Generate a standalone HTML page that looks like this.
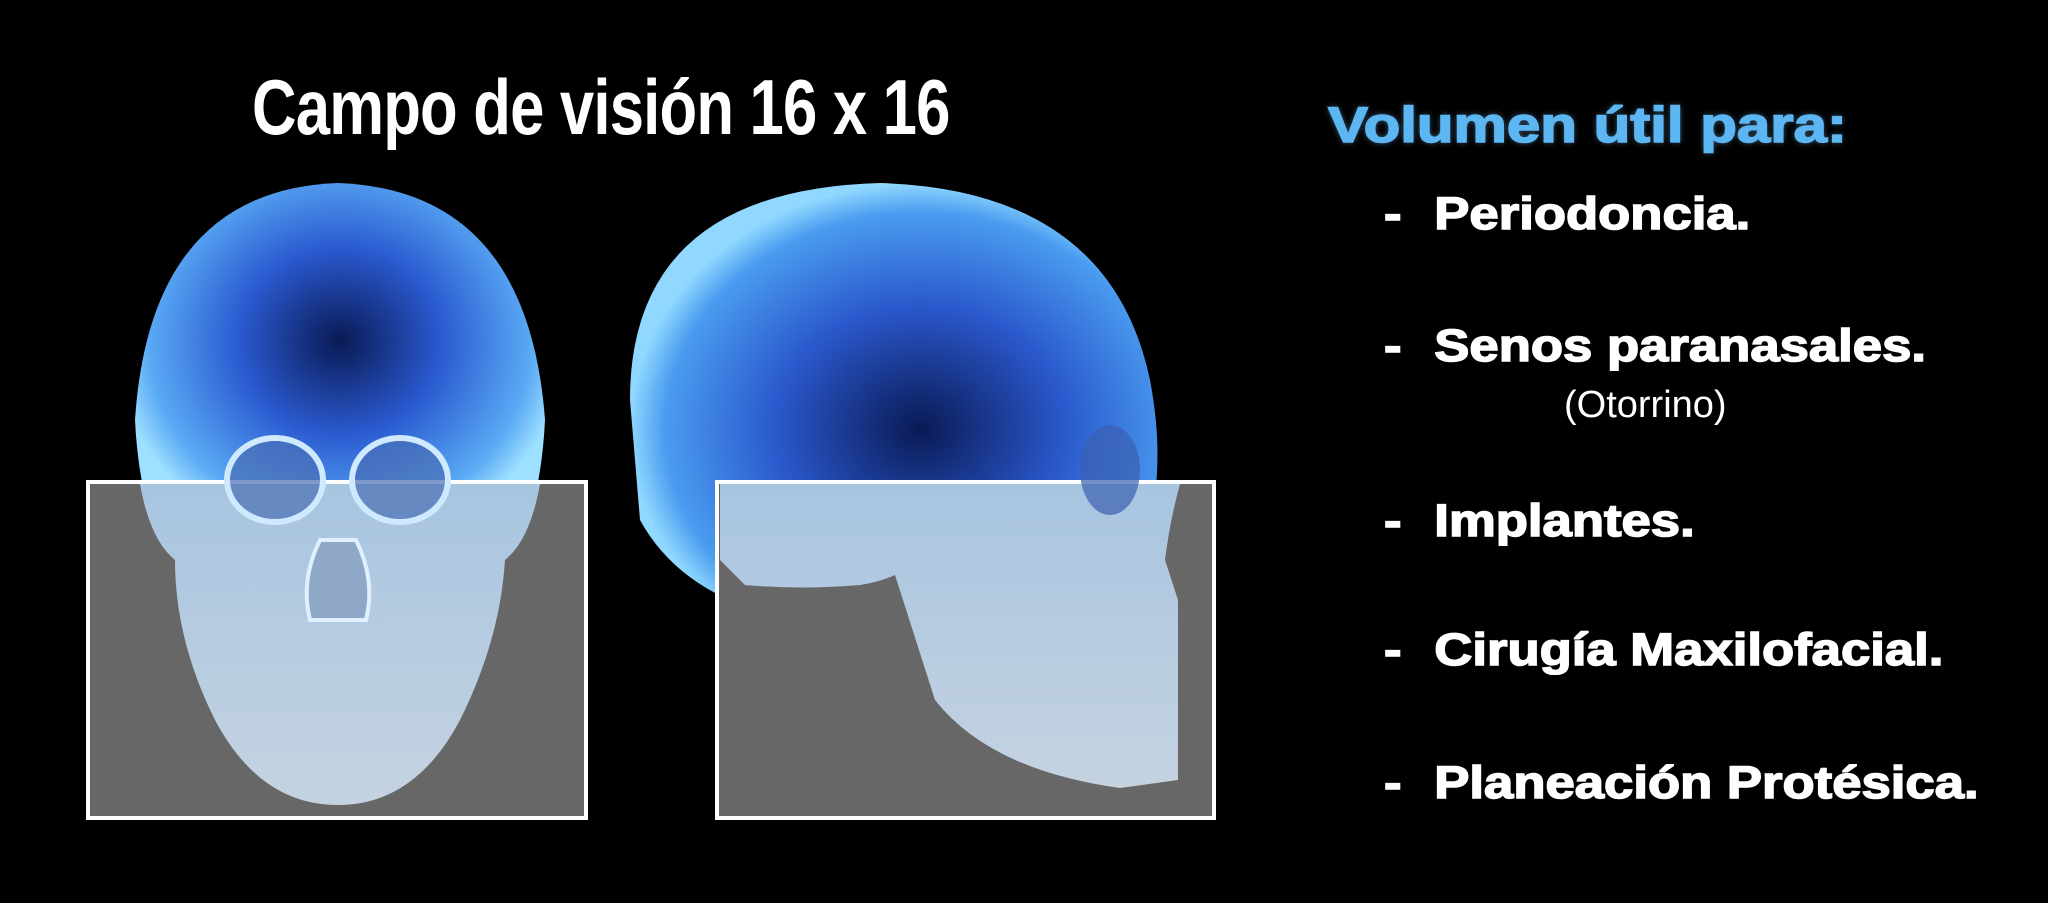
<!DOCTYPE html>
<html><head><meta charset="utf-8">
<style>
html,body{margin:0;padding:0;background:#000;}
#slide{position:relative;width:2048px;height:903px;background:#000;overflow:hidden;font-family:"Liberation Sans",sans-serif;}
.t{position:absolute;color:#fff;white-space:nowrap;transform-origin:left top;}
#title{left:252px;top:62px;font-size:78px;font-weight:bold;transform:scaleX(0.79);letter-spacing:-1px;}
#sub{left:1328px;top:96px;font-size:50px;font-weight:bold;color:#5cb6f2;-webkit-text-stroke:1.5px #5cb6f2;text-shadow:0 0 6px rgba(120,180,230,0.6);transform:scaleX(1.2);}
.item{font-size:45px;font-weight:bold;left:1384px;transform:scaleX(1.17);-webkit-text-stroke:1.5px #fff;}
.item span{display:inline-block;width:43px;}
#oto{left:1564px;top:384px;font-size:38px;}
</style></head><body>
<div id="slide">
<svg width="2048" height="903" style="position:absolute;left:0;top:0">
<defs>
<radialGradient id="g1" cx="50%" cy="42%" r="55%">
<stop offset="0" stop-color="#0a1a55"/><stop offset="0.45" stop-color="#2a5ad0"/><stop offset="0.85" stop-color="#5aaaf5"/><stop offset="1" stop-color="#9ee0ff"/>
</radialGradient>
<radialGradient id="g2" cx="55%" cy="55%" r="55%">
<stop offset="0" stop-color="#0a1a55"/><stop offset="0.5" stop-color="#2a58cc"/><stop offset="0.88" stop-color="#4a9cf0"/><stop offset="1" stop-color="#90d8ff"/>
</radialGradient>
<linearGradient id="jaw" x1="0" y1="0" x2="0" y2="1">
<stop offset="0" stop-color="#b8dcff"/><stop offset="1" stop-color="#dceeff"/>
</linearGradient>
</defs>
<g>
<path d="M338 183 Q150 190 135 420 Q140 520 175 560 L505 560 Q540 520 545 420 Q528 190 338 183 Z" fill="url(#g1)"/>
</g>
<g>
<path d="M630 400 Q630 190 880 183 Q1110 190 1150 380 Q1165 460 1150 520 L1100 540 Q1000 620 900 630 Q700 630 640 520 Z" fill="url(#g2)"/>
</g>
<rect x="88" y="482" width="498" height="336" fill="#676767" stroke="#fff" stroke-width="4"/>
<rect x="717" y="482" width="497" height="336" fill="#676767" stroke="#fff" stroke-width="4"/>
<g opacity="0.8">
<path d="M140 484 Q150 540 175 560 Q175 640 215 720 Q260 805 338 805 Q415 805 460 720 Q500 640 505 560 Q530 540 540 484 Z" fill="url(#jaw)"/>
<path d="M720 484 L1180 484 Q1170 520 1165 560 L1178 600 L1178 780 L1120 788 Q990 770 935 700 L895 575 Q880 582 860 585 Q800 590 745 585 L720 560 Z" fill="url(#jaw)"/>
</g>
<ellipse cx="275" cy="480" rx="48" ry="42" fill="#4a6fb5" fill-opacity="0.7" stroke="#cfeaff" stroke-width="6"/>
<ellipse cx="400" cy="480" rx="48" ry="42" fill="#4a6fb5" fill-opacity="0.7" stroke="#cfeaff" stroke-width="6"/>
<path d="M320 540 Q300 580 310 620 L366 620 Q376 580 356 540 Z" fill="#8fa8c8" stroke="#e0f0ff" stroke-width="4"/>
<ellipse cx="1110" cy="470" rx="30" ry="45" fill="#3a5fb0" fill-opacity="0.7"/>
</svg>
<div class="t" id="title">Campo de visión 16 x 16</div>
<div class="t" id="sub">Volumen útil para:</div>
<div class="t item" style="top:188px"><span>-</span>Periodoncia.</div>
<div class="t item" style="top:320px"><span>-</span>Senos paranasales.</div>
<div class="t" id="oto">(Otorrino)</div>
<div class="t item" style="top:495px"><span>-</span>Implantes.</div>
<div class="t item" style="top:624px"><span>-</span>Cirugía Maxilofacial.</div>
<div class="t item" style="top:757px"><span>-</span>Planeación Protésica.</div>
</div>
</body></html>
